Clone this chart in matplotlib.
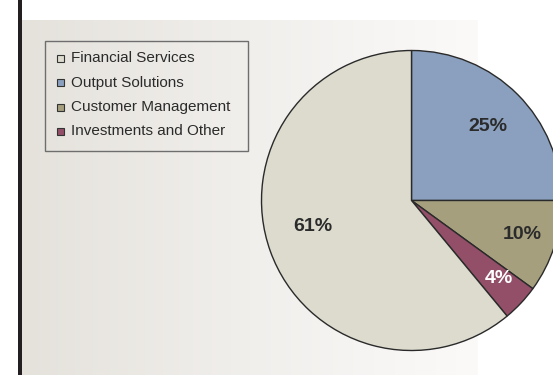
import numpy as np
import matplotlib
matplotlib.use("Agg")
import matplotlib.pyplot as plt
from matplotlib.patches import Rectangle
from matplotlib.colors import LinearSegmentedColormap

# Revenue share by segment (drawn clockwise from 12 o'clock)
segments = ["Output Solutions", "Customer Management", "Investments and Other", "Financial Services"]
shares = [25, 10, 4, 61]
colors = ["#8AA0BE", "#A59F7E", "#944F68", "#DCDBCE"]
label_colors = ["#2B2B2B", "#2B2B2B", "#FFFFFF", "#2B2B2B"]

# Legend order
legend_order = ["Financial Services", "Output Solutions", "Customer Management", "Investments and Other"]

W, H = 553, 375
fig = plt.figure(figsize=(W / 100, H / 100), dpi=100)
fig.patch.set_facecolor("white")
ax = fig.add_axes([0, 0, 1, 1])
ax.set_axis_off()

# Shaded backdrop panel
grad = LinearSegmentedColormap.from_list("panel", ["#E5E2DC", "#F1EFEC", "#FBFAF9"])
ax.imshow(np.linspace(0, 1, 256)[None, :], cmap=grad, aspect="auto",
          extent=(22, 478, 0, 355), zorder=0, interpolation="bilinear")

# Dark vertical rule on the left
ax.add_patch(Rectangle((18, 0), 4, H, facecolor="#231F20", edgecolor="none", zorder=1))

# Pie
cx, cy, radius = 411.5, H - 200.5, 150
wedges, _ = ax.pie(shares, colors=colors, startangle=90, counterclock=False,
                   center=(cx, cy), radius=radius,
                   wedgeprops=dict(edgecolor="#2A2A2A", linewidth=1.0),
                   frame=True)
for w in wedges:
    w.set_zorder(3)

# Percentage labels: radial fraction and angular nudge per slice
label_r = [0.71, 0.77, 0.78, 0.68]
label_nudge = [-0.8, 1.1, 1.3, -5.3]
total = sum(shares)
for w, v, r, d, tc in zip(wedges, shares, label_r, label_nudge, label_colors):
    mid = np.deg2rad((w.theta1 + w.theta2) / 2 + d)
    x = cx + r * radius * np.cos(mid)
    y = cy + r * radius * np.sin(mid)
    ax.text(x, y, f"{round(100 * v / total)}%", ha="center", va="center",
            fontsize=14, fontweight="bold", color=tc, family="Liberation Sans", zorder=5)

ax.set_xlim(0, W)
ax.set_ylim(0, H)
ax.set_aspect("auto")

# Legend
ax.add_patch(Rectangle((45, H - 151), 203, 110, facecolor="none",
                       edgecolor="#6E6E6E", linewidth=1.0, zorder=4))
color_of = dict(zip(segments, colors))
row_y = [58, 82.5, 107, 131]
for name, ry in zip(legend_order, row_y):
    ax.add_patch(Rectangle((57, H - ry - 3.5), 7, 7, facecolor=color_of[name],
                           edgecolor="#333333", linewidth=0.8, zorder=5))
    ax.text(71, H - ry, name, ha="left", va="center", fontsize=11,
            color="#2B2B2B", family="Liberation Sans", zorder=5)

fig.savefig("out.png", dpi=100)
